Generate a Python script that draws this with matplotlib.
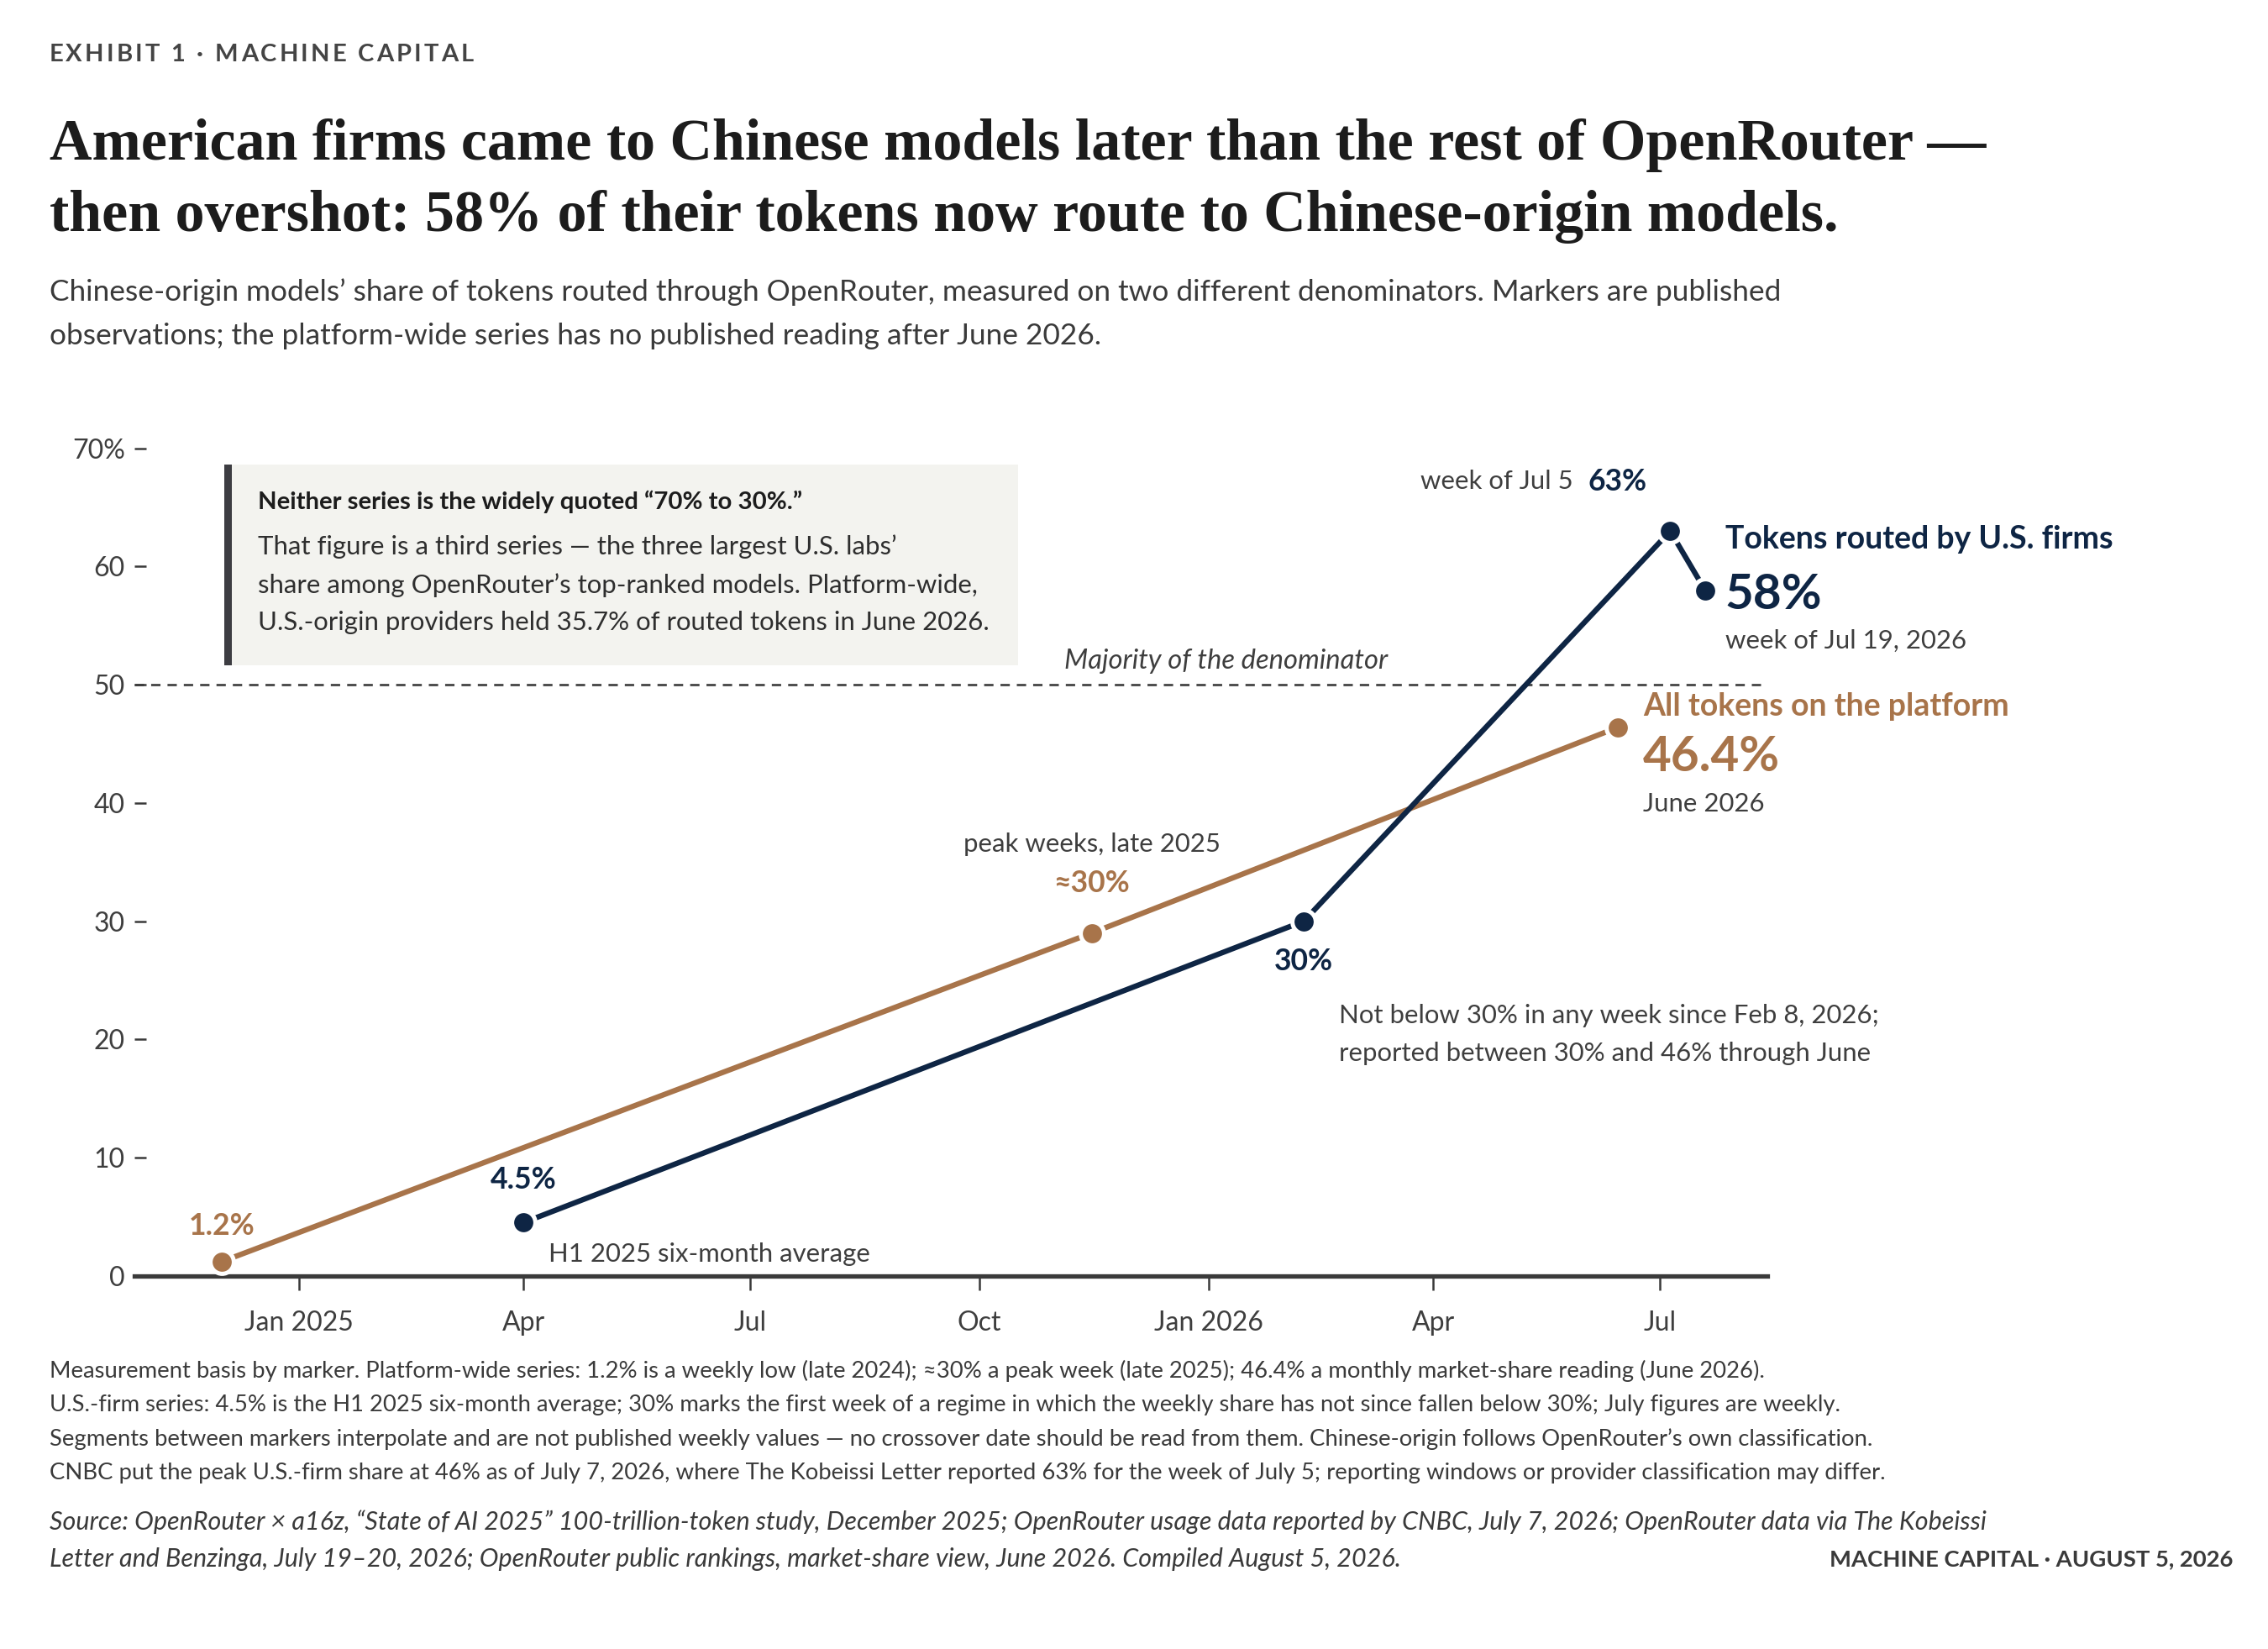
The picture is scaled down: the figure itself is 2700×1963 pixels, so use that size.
import matplotlib
matplotlib.use("Agg")
import matplotlib.pyplot as plt
from matplotlib.patches import Rectangle
from datetime import datetime

# ---- data ----
platform_dates = ["2024-12-01", "2025-11-15", "2026-06-14"]
platform_vals = [1.2, 29.0, 46.4]
us_dates = ["2025-04-01", "2026-02-08", "2026-07-05", "2026-07-19"]
us_vals = [4.5, 30.0, 63.0, 58.0]

tick_dates = ["2025-01-01", "2025-04-01", "2025-07-01", "2025-10-01",
              "2026-01-01", "2026-04-01", "2026-07-01"]
tick_labels = ["Jan 2025", "Apr", "Jul", "Oct", "Jan 2026", "Apr", "Jul"]
y_ticks = [0, 10, 20, 30, 40, 50, 60, 70]
y_labels = ["0", "10", "20", "30", "40", "50", "60", "70%"]

NAVY = "#0e2544"
BROWN = "#a8744a"
INK = "#1c1c1c"
GRAY = "#3e3e3e"
SANS = ["Lato", "DejaVu Sans"]
SERIF = ["Liberation Serif", "DejaVu Serif"]

plt.rcParams["font.family"] = SANS

W, H = 1568, 1140  # layout grid used for placing figure-level text


def d(s):
    return datetime.strptime(s, "%Y-%m-%d")


def fx(px):
    return px / W


def fy(px):
    return 1 - px / H


def tracked_text(fig, x, y, s, tracking, **kw):
    """Draw letter-spaced text char by char (tracking in pixels)."""
    r = fig.canvas.get_renderer()
    cur = x
    for ch in s:
        t = fig.text(cur, y, ch, **kw)
        w = t.get_window_extent(renderer=r).width
        if ch == " ":
            w = kw.get("fontsize", 10) * fig.dpi / 72 * 0.26
        cur += (w + tracking) / fig.bbox.width


fig = plt.figure(figsize=(13.5, 9.815), dpi=200)
ax = fig.add_axes([0.0593, 0.2263, 0.72, 0.5018])

# series
ax.plot([d(s) for s in platform_dates], platform_vals, color=BROWN, lw=2.3,
        marker="o", ms=10, mec="white", mew=1.8, clip_on=False, zorder=3)
ax.plot([d(s) for s in us_dates], us_vals, color=NAVY, lw=2.3,
        marker="o", ms=10, mec="white", mew=1.8, clip_on=False, zorder=4)

# majority line
ax.axhline(50, xmax=0.996, color="#444444", lw=1.0, ls=(0, (4, 3)), zorder=1)
ax.text(d("2026-01-08"), 52.0, "Majority of the denominator", style="italic",
        fontsize=11.8, color=GRAY, ha="center", va="center")

# axes styling
ax.set_xlim(d("2024-10-27"), d("2026-08-13"))
ax.set_ylim(0, 70)
ax.set_xticks([d(s) for s in tick_dates])
ax.set_xticklabels(tick_labels)
ax.set_yticks(y_ticks)
ax.set_yticklabels(y_labels)
for s in ["top", "right", "left"]:
    ax.spines[s].set_visible(False)
ax.spines["bottom"].set_color("#3a3a3a")
ax.spines["bottom"].set_linewidth(1.9)
ax.tick_params(axis="x", direction="out", length=6, width=0.9, color="#3a3a3a",
               labelsize=11.5, labelcolor=GRAY, pad=9)
ax.tick_params(axis="y", direction="in", length=5, width=0.9, color="#3a3a3a",
               labelsize=11.5, labelcolor=GRAY, pad=4)

# point labels
ANN = 11.2
NUM = 12.8
ax.text(d("2024-12-01"), 4.2, "1.2%", color=BROWN, fontsize=NUM, fontweight="bold",
        ha="center", va="center")
ax.text(d("2025-04-01"), 8.1, "4.5%", color=NAVY, fontsize=NUM, fontweight="bold",
        ha="center", va="center")
ax.text(d("2025-04-11"), 1.8, "H1 2025 six-month average", color=GRAY, fontsize=ANN,
        ha="left", va="center")
ax.text(d("2025-11-15"), 36.5, "peak weeks, late 2025", color=GRAY, fontsize=ANN,
        ha="center", va="center")
ax.text(d("2025-11-15"), 33.2, "≈30%", color=BROWN, fontsize=NUM, fontweight="bold",
        ha="center", va="center")
ax.text(d("2026-02-08"), 26.6, "30%", color=NAVY, fontsize=NUM, fontweight="bold",
        ha="center", va="center")
ax.text(d("2026-02-22"), 20.4,
        "Not below 30% in any week since Feb 8, 2026;\nreported between 30% and 46% through June",
        color=GRAY, fontsize=ANN, ha="left", va="center", linespacing=1.75)
ax.text(d("2026-05-27"), 67.2, "week of Jul 5", color=GRAY, fontsize=ANN,
        ha="right", va="center")
ax.text(d("2026-06-02"), 67.2, "63%", color=NAVY, fontsize=NUM, fontweight="bold",
        ha="left", va="center")

# end labels
ax.text(d("2026-07-27"), 62.3, "Tokens routed by U.S. firms", color=NAVY, fontsize=13.5,
        fontweight="bold", ha="left", va="center")
ax.text(d("2026-07-27"), 57.6, "58%", color=NAVY, fontsize=21, fontweight="bold",
        ha="left", va="center")
ax.text(d("2026-07-27"), 53.7, "week of Jul 19, 2026", color=GRAY, fontsize=ANN,
        ha="left", va="center")
ax.text(d("2026-06-24"), 48.2, "All tokens on the platform", color=BROWN, fontsize=13.5,
        fontweight="bold", ha="left", va="center")
ax.text(d("2026-06-24"), 43.9, "46.4%", color=BROWN, fontsize=21, fontweight="bold",
        ha="left", va="center")
ax.text(d("2026-06-24"), 39.9, "June 2026", color=GRAY, fontsize=ANN,
        ha="left", va="center")

# callout box
fig.patches.append(Rectangle((fx(155), fy(460)), fx(704) - fx(155), fy(321) - fy(460),
                             transform=fig.transFigure, facecolor="#f3f3ef",
                             edgecolor="none", zorder=0))
fig.patches.append(Rectangle((fx(155), fy(460)), fx(5), fy(321) - fy(460),
                             transform=fig.transFigure, facecolor="#3d3d42",
                             edgecolor="none", zorder=1))
fig.text(fx(178), fy(347), "Neither series is the widely quoted “70% to 30%.”",
         fontsize=10.6, fontweight="bold", color=INK, va="center")
fig.text(fx(178), fy(404),
         "That figure is a third series — the three largest U.S. labs’\n"
         "share among OpenRouter’s top-ranked models. Platform-wide,\n"
         "U.S.-origin providers held 35.7% of routed tokens in June 2026.",
         fontsize=11.2, color="#2e2e2e", va="center", linespacing=1.72)

# header
tracked_text(fig, fx(34), fy(38), "EXHIBIT 1 · MACHINE CAPITAL", 3.1,
             fontsize=10.5, fontweight="bold", color="#444444", va="center")
fig.text(fx(34), fy(125),
         "American firms came to Chinese models later than the rest of OpenRouter —\n"
         "then overshot: 58% of their tokens now route to Chinese-origin models.",
         family=SERIF, fontsize=25.2, fontweight="bold", color=INK, va="center",
         linespacing=1.42)
fig.text(fx(34), fy(217),
         "Chinese-origin models’ share of tokens routed through OpenRouter, measured on two different denominators. Markers are published\n"
         "observations; the platform-wide series has no published reading after June 2026.",
         fontsize=12.7, color="#3a3a3a", va="center", linespacing=1.75)

# footnotes
fig.text(fx(34), fy(983),
         "Measurement basis by marker. Platform-wide series: 1.2% is a weekly low (late 2024); ≈30% a peak week (late 2025); 46.4% a monthly market-share reading (June 2026).\n"
         "U.S.-firm series: 4.5% is the H1 2025 six-month average; 30% marks the first week of a regime in which the weekly share has not since fallen below 30%; July figures are weekly.\n"
         "Segments between markers interpolate and are not published weekly values — no crossover date should be read from them. Chinese-origin follows OpenRouter’s own classification.\n"
         "CNBC put the peak U.S.-firm share at 46% as of July 7, 2026, where The Kobeissi Letter reported 63% for the week of July 5; reporting windows or provider classification may differ.",
         fontsize=9.9, color="#3a3a3a", va="center", linespacing=1.75)
fig.text(fx(34), fy(1065),
         "Source: OpenRouter × a16z, “State of AI 2025” 100-trillion-token study, December 2025; OpenRouter usage data reported by CNBC, July 7, 2026; OpenRouter data via The Kobeissi\n"
         "Letter and Benzinga, July 19–20, 2026; OpenRouter public rankings, market-share view, June 2026. Compiled August 5, 2026.",
         fontsize=11, style="italic", color="#3a3a3a", va="center", linespacing=1.7)
fig.text(fx(1544), fy(1078), "MACHINE CAPITAL · AUGUST 5, 2026", fontsize=9.9,
         fontweight="bold", color="#3a3a3a", ha="right", va="center")

fig.savefig("out.png", dpi=200, facecolor="white")
